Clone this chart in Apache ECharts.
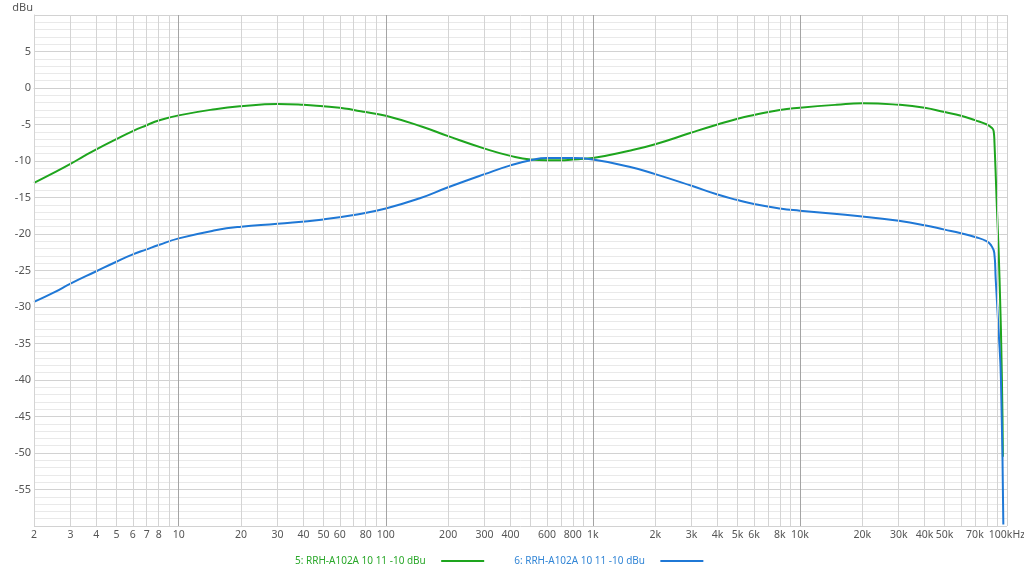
<!DOCTYPE html>
<html>
<head>
<meta charset="utf-8">
<script src="https://cdn.jsdelivr.net/npm/echarts@6/dist/echarts.min.js"></script>
<style>
html,body{margin:0;padding:0;background:#fff;}
#chart{width:1024px;height:570px;}
</style>
</head>
<body>
<div id="chart"></div>
<script>
// Series names
const seriesNames = ['5: RRH-A102A 10 11 -10 dBu', '6: RRH-A102A 10 11 -10 dBu'];

// Series 5 (green): [frequency Hz, dBu]
const greenData = [
  [2,-13.0],[2.5,-11.6],[3,-10.4],[3.5,-9.3],[4,-8.4],[5,-7.0],[6,-5.9],[7,-5.1],[8,-4.45],[10,-3.75],
  [15,-2.9],[20,-2.5],[30,-2.2],[40,-2.3],[50,-2.5],[60,-2.7],[70,-3.0],[80,-3.3],[100,-3.8],
  [150,-5.3],[200,-6.6],[300,-8.3],[400,-9.3],[500,-9.8],[600,-9.9],[700,-9.9],[800,-9.8],[900,-9.7],[1000,-9.6],
  [1500,-8.6],[2000,-7.7],[3000,-6.1],[4000,-5.0],[5000,-4.2],[6000,-3.7],[8000,-3.0],[10000,-2.7],
  [15000,-2.3],[20000,-2.1],[30000,-2.3],[40000,-2.7],[50000,-3.3],[60000,-3.8],[70000,-4.4],[80000,-5.0],
  [84000,-5.4],[86200,-5.9],[87000,-7.5],[89000,-15],[92000,-26],[94500,-40],[95500,-50.5]
];

// Series 6 (blue): [frequency Hz, dBu]
const blueData = [
  [2,-29.3],[2.5,-28.0],[3,-26.8],[4,-25.1],[5,-23.8],[6,-22.8],[7,-22.1],[8,-21.5],[10,-20.6],
  [15,-19.5],[20,-19.0],[30,-18.6],[50,-18.0],[70,-17.4],[100,-16.5],[146,-15.1],[200,-13.6],
  [300,-11.8],[400,-10.6],[500,-9.9],[600,-9.6],[700,-9.6],[800,-9.6],[1000,-9.8],[1500,-10.8],
  [2000,-11.8],[3000,-13.4],[4000,-14.6],[5000,-15.35],[6000,-15.9],[8000,-16.5],[10000,-16.8],
  [20000,-17.6],[30000,-18.2],[40000,-18.8],[50000,-19.4],[60000,-19.9],[70000,-20.4],[80000,-21.0],
  [84000,-21.6],[86800,-22.6],[88200,-26.2],[91000,-33],[93500,-40],[96000,-59.8]
];

// X tick labels (frequency -> text)
const xLabelValues = [2,3,4,5,6,7,8,10,20,30,40,50,60,80,100,200,300,400,600,800,1000,2000,3000,4000,5000,6000,8000,10000,20000,30000,40000,50000,70000,100000];
const xLabelTexts  = ['2','3','4','5','6','7','8','10','20','30','40','50','60','80','100','200','300','400','600','800','1k','2k','3k','4k','5k','6k','8k','10k','20k','30k','40k','50k','70k','100kHz'];

// Vertical grid frequencies (1..9 × decades) and decade lines
const gridMultipliers = [1,2,3,4,5,6,7,8,9];
const gridDecades = [1,10,100,1000,10000];
const decadeLines = [10,100,1000,10000];

const FONT = 'Noto Sans, sans-serif';

const markData = [];
gridDecades.forEach(d => {
  gridMultipliers.forEach(m => {
    const f = d * m;
    if (f < 2) return;
    const idx = xLabelValues.indexOf(f);
    const isDecade = decadeLines.indexOf(f) >= 0;
    markData.push({
      xAxis: f,
      lineStyle: {color: isDecade ? '#a4a4a4' : '#d4d4d4', width: 1, type: 'solid'},
      label: idx >= 0 ? {show: true, position: 'start', formatter: xLabelTexts[idx], color: '#555', fontSize: 10.5, fontFamily: FONT, distance: 4} : {show: false}
    });
  });
});
markData.push({
  xAxis: 100000,
  lineStyle: {color: '#cfcfcf', width: 1, type: 'solid'},
  label: {show: true, position: 'start', formatter: xLabelTexts[xLabelTexts.length - 1], color: '#555', fontSize: 10.5, fontFamily: FONT, distance: 4}
});

const chart = echarts.init(document.getElementById('chart'), null, {renderer: 'canvas'});
chart.setOption({
  animation: false,
  backgroundColor: '#ffffff',
  textStyle: {fontFamily: FONT},
  grid: {left: 34, right: 17, top: 15, bottom: 44, containLabel: false},
  legend: {
    data: [
      {name: seriesNames[0], textStyle: {color: '#2aa82a'}},
      {name: seriesNames[1], textStyle: {color: '#3386d6'}}
    ],
    left: 290,
    top: 551,
    align: 'right',
    icon: 'rect',
    itemWidth: 43,
    itemHeight: 2,
    itemGap: 30,
    formatter: name => name + '    ',
    textStyle: {fontSize: 10, fontFamily: FONT}
  },
  xAxis: {
    type: 'log',
    logBase: 10,
    min: 2,
    max: 100000,
    axisLine: {show: true, lineStyle: {color: '#cfcfcf'}},
    axisTick: {show: false},
    axisLabel: {show: false},
    splitLine: {show: false},
    minorSplitLine: {show: false}
  },
  yAxis: {
    type: 'value',
    min: -60,
    max: 10,
    interval: 5,
    name: 'dBu',
    nameLocation: 'end',
    nameGap: 7,
    nameTextStyle: {color: '#555', fontSize: 11, fontFamily: FONT, align: 'right', verticalAlign: 'middle', padding: [0, 1, 0, 0]},
    axisLine: {show: true, lineStyle: {color: '#cfcfcf'}},
    axisTick: {show: false},
    axisLabel: {
      color: '#555', fontSize: 11, fontFamily: FONT, margin: 3,
      formatter: v => (v === 10 || v === -60) ? '' : String(v)
    },
    splitLine: {show: true, lineStyle: {color: '#d2d2d2', width: 1}},
    minorTick: {show: false, splitNumber: 5},
    minorSplitLine: {show: true, lineStyle: {color: '#e9e9e9', width: 1}}
  },
  series: [
    {
      name: 'grid',
      type: 'line',
      data: [],
      z: 1,
      silent: true,
      markLine: {
        silent: true,
        symbol: ['none', 'none'],
        animation: false,
        data: markData
      }
    },
    {
      name: seriesNames[0],
      type: 'line',
      data: greenData,
      z: 3,
      showSymbol: false,
      smooth: 0.5,
      color: '#1ea51e',
      lineStyle: {color: '#1ea51e', width: 2},
      clip: true
    },
    {
      name: seriesNames[1],
      type: 'line',
      data: blueData,
      z: 4,
      showSymbol: false,
      smooth: 0.5,
      color: '#1f78d6',
      lineStyle: {color: '#1f78d6', width: 2},
      clip: true
    }
  ]
});
</script>
</body>
</html>
